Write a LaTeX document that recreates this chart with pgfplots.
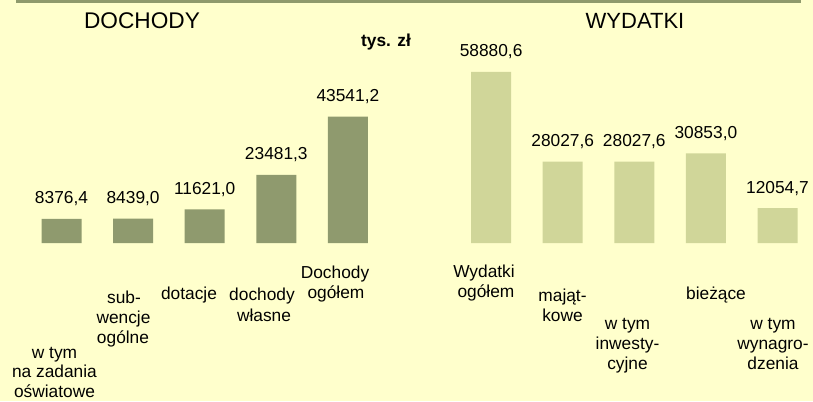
\documentclass[border=0pt]{standalone}
\usepackage{fontspec}
\setmainfont{Liberation Sans}
\usepackage{pgfplots}
\pgfplotsset{compat=1.18}
\definecolor{bg}{HTML}{FFFFCC}
\definecolor{dark}{HTML}{8F9A6E}
\definecolor{light}{HTML}{D0D699}
\definecolor{topline}{HTML}{8F9A6C}
\newcommand\lab[3]{\node[anchor=base,inner sep=0pt,font=\fontsize{13}{15.5}\selectfont] at ({#1*0.75pt},{(401-#2)*0.75pt}) {#3};}
\begin{document}
\begin{tikzpicture}
\path[use as bounding box, fill=bg] (0,0) rectangle (609.75pt,300.75pt);
\fill[topline] (12pt,300.75pt) rectangle (600.75pt,298.5pt);
\begin{axis}[at={(19.275pt,118.35pt)}, anchor=south west, scale only axis,
  width=590.7pt, height=130.9pt, xmin=-0.5, xmax=10.5, ymin=0, ymax=60000,
  hide axis, ybar, bar width=30pt, nodes near coords, point meta=explicit symbolic,
  every node near coord/.append style={font=\fontsize{13}{15.5}\selectfont, anchor=south, inner sep=0pt, text depth=0pt, yshift=11.1pt, text=black}]
\addplot[fill=dark, draw=none, bar shift=0pt] table[x=x,y=y,meta=lab] {
x y lab
0 8376.4 8376,4
1 8439.0 8439,0
2 11621.0 11621,0
3 23481.3 23481,3
4 43541.2 43541,2
};
\addplot[fill=light, draw=none, bar shift=0pt] table[x=x,y=y,meta=lab] {
x y lab
6 58880.6 58880,6
7 28027.6 28027,6
8 28027.6 28027,6
9 30853.0 30853,0
10 12054.7 12054,7
};
\end{axis}
\node[anchor=base,inner sep=0pt,font=\fontsize{17}{19}\selectfont] at ({142*0.75pt},{(401-28.3)*0.75pt}) {DOCHODY};
\node[anchor=base,inner sep=0pt,font=\fontsize{16.5}{19}\selectfont] at ({635*0.75pt},{(401-28.3)*0.75pt}) {WYDATKI};
\node[anchor=base,inner sep=0pt,font=\fontsize{13}{15.5}\selectfont\bfseries] at ({386*0.75pt},{(401-46.5)*0.75pt}) {tys. zł};
\lab{54.5}{358}{w tym}
\lab{54.5}{377.5}{na zadania}
\lab{54.5}{397}{oświatowe}
\lab{124}{303.3}{sub-}
\lab{123.5}{323.3}{wencje}
\lab{123}{343.3}{ogólne}
\lab{189}{299}{dotacje}
\lab{262}{300.7}{dochody}
\lab{264}{321}{własne}
\lab{335}{278.3}{Dochody}
\lab{336}{298.3}{ogółem}
\lab{484}{277.7}{Wydatki}
\lab{486}{297.7}{ogółem}
\lab{562.5}{301.7}{mająt-}
\lab{562.5}{321.7}{kowe}
\lab{627.5}{329.5}{w tym}
\lab{627.5}{349.5}{inwesty-}
\lab{627.5}{369.5}{cyjne}
\lab{716}{299}{bieżące}
\lab{773}{329.5}{w tym}
\lab{773}{349.5}{wynagro-}
\lab{773}{369.5}{dzenia}
\end{tikzpicture}
\end{document}
